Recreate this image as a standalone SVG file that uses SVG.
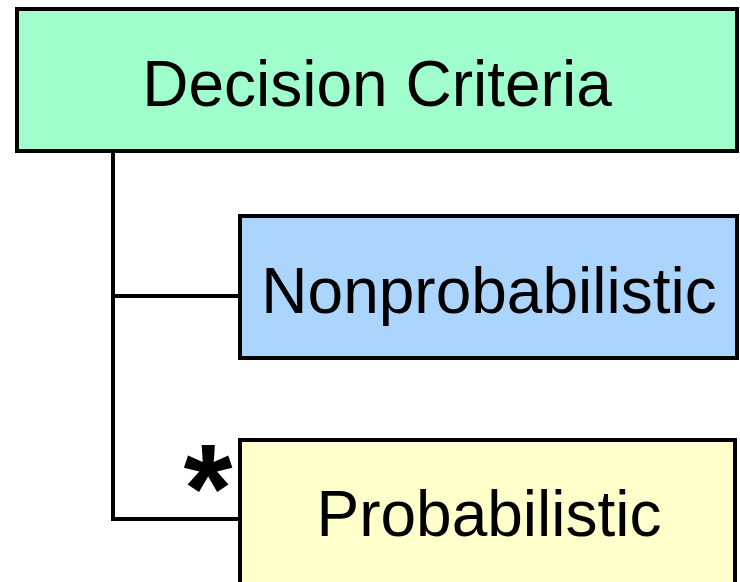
<svg xmlns="http://www.w3.org/2000/svg" width="740" height="582" viewBox="0 0 740 582">
<style>
.box{stroke:#000;stroke-width:4}
.lbl{font-family:"Liberation Sans",Arial,sans-serif;font-size:64px;fill:#000;text-anchor:middle}
.conn{stroke:#000;stroke-width:4;fill:none}
</style>
<rect width="740" height="582" fill="#fff"/>
<g id="connectors">
<polyline class="conn" points="113,151 113,519 240,519"/>
<line class="conn" x1="113" y1="296" x2="240" y2="296"/>
</g>
<g id="decision-criteria">
<rect class="box" x="17" y="9" width="720" height="142" fill="#a0fdcc"/>
<text class="lbl" x="377" y="106">Decision Criteria</text>
</g>
<g id="nonprobabilistic">
<rect class="box" x="240" y="216" width="497" height="142" fill="#acd5fe"/>
<text class="lbl" x="489" y="313">Nonprobabilistic</text>
</g>
<g id="probabilistic">
<rect class="box" x="240" y="440" width="495" height="160" fill="#feffcb"/>
<text class="lbl" x="489" y="536">Probabilistic</text>
</g>
<text x="208" y="532" font-family="Liberation Sans,Arial,sans-serif" font-weight="bold" font-size="126" text-anchor="middle" fill="#000">*</text>
</svg>
